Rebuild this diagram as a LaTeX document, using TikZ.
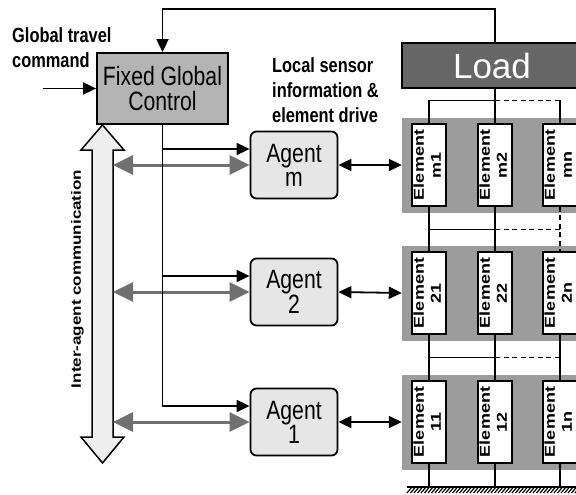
\documentclass[tikz,border=0pt]{standalone}
\usepackage{fontspec}
\setmainfont{Liberation Sans}[FakeStretch=0.8]
\newfontfamily\widesans{Liberation Sans}
\usetikzlibrary{arrows.meta, calc}

\definecolor{ctlgray}{HTML}{B4B4B4}
\definecolor{loadgray}{HTML}{666666}
\definecolor{grpgray}{HTML}{9C9C9C}
\definecolor{agentgray}{HTML}{E6E6E6}
\definecolor{commgray}{HTML}{EEEEEE}
\definecolor{linkgray}{HTML}{707070}

% rotated label of one element
\newcommand{\elemlabel}[1]{\rotatebox{90}{\scalebox{1}[0.8]{\widesans\bfseries\fontsize{18}{21}\selectfont%
  \begin{tabular}{@{}c@{}}Element\\#1\end{tabular}}}}

\begin{document}
\begin{tikzpicture}[x=1pt, y=-1pt]

\useasboundingbox (0,0) rectangle (576,495);

% styles
\pgfkeys{/wire/.style={draw, line width=1.8pt}} % plain connection
\pgfkeys{/bus/.style={draw, line width=1pt}} % thin cross links between columns
\pgfkeys{/blkarrow/.style={/wire, >={Triangle[length=13pt, width=12pt]}, ->}} % signal arrows
\pgfkeys{/gryarrow/.style={draw=linkgray, line width=3pt, >={Triangle[length=20pt, width=19pt]}, <->}} % communication links
\pgfkeys{/ctlbox/.style={draw, line width=1.8pt, fill=ctlgray, minimum width=131pt, minimum height=71pt, inner sep=0, align=center, font=\fontsize{26.5}{25}\selectfont}}
\pgfkeys{/loadbox/.style={draw, line width=1.5pt, fill=loadgray, text=white, minimum width=180pt, minimum height=45pt, inner sep=0, font=\widesans\fontsize{35}{35}\selectfont}}
\pgfkeys{/grpbox/.style={fill=grpgray, minimum width=180pt, minimum height=95pt, inner sep=0}}
\pgfkeys{/elembox/.style={draw, line width=1.8pt, fill=white, minimum width=34pt, minimum height=82pt, inner sep=0}}
\pgfkeys{/agentbox/.style={draw, line width=1.8pt, fill=agentgray, rounded corners=6pt, minimum width=87pt, minimum height=67pt, inner sep=0, align=center, font=\fontsize{26.5}{24}\selectfont}}
\pgfkeys{/note/.style={anchor=north west, align=left, inner sep=0, font=\bfseries\fontsize{20.5}{25}\selectfont}}

% top: control and load
\node[/ctlbox] (ctl) at (162.5,88.5) {Fixed Global\\Control};
\node[/loadbox] (ld) at (492,65.5) {Load};
\node[/note] (cmdtxt) at (12,27.5) {Global travel\\command};
\node[/note] (senstxt) at (272,57.5) {Local sensor\\information \&\\element drive};
\coordinate (cmdin) at (43,88.5);
\draw[/blkarrow] (cmdin) -- (ctl.west);

% element groups, one row per agent
\foreach \r/\ry in {m/165, 2/293, 1/422} {
\node[/grpbox] (grp\r) at (492,\ry) {};
\foreach \c/\cx in {1/429, 2/495, n/560} {
\node[/elembox] (el\r\c) at (\cx,\ry) {\elemlabel{\r\c}};
}
}

% links above row m
\coordinate (bm) at ($(ld.south -| elm1)!.33!(elm1.north)$);
\draw[/wire] (ld.south -| elm2.north) -- (elm2.north);
\draw[/wire] (bm) -- (elm1.north);
\draw[/wire] (bm -| elmn) -- (elmn.north);
\draw[/bus] (bm) -- (bm -| elm2);
\draw[/bus, dash pattern=on 5pt off 3.5pt] (bm -| elm2) -- (bm -| elmn);

% links between row m and row 2
\coordinate (b2) at ($(elm1.south)!.5!(el21.north)$);
\draw[/wire] (elm1.south) -- (el21.north);
\draw[/wire] (elm2.south) -- (el22.north);
\draw[/wire, dash pattern=on 5pt off 3.5pt] (elmn.south) -- (el2n.north);
\draw[/bus] (b2) -- (b2 -| el22);
\draw[/bus, dash pattern=on 5pt off 3.5pt] (b2 -| el22) -- (b2 -| el2n);

% links between row 2 and row 1
\coordinate (b1) at ($(el21.south)!.5!(el11.north)$);
\foreach \c in {1,2,n} {
\draw[/wire] (el2\c.south) -- (el1\c.north);
}
\draw[/bus] (b1) -- (b1 -| el12);
\draw[/bus, dash pattern=on 5pt off 3.5pt] (b1 -| el12) -- (b1 -| el1n);

% ground
\coordinate (gnd) at (407,487);
\foreach \c in {1,2,n} {
\draw[/wire] (el1\c.south) -- (el1\c.south |- gnd);
}
\draw[line width=1.5pt] (gnd) -- (580,487);
\foreach \x in {407,410.5,...,576} {
\draw[line width=1.2pt] (\x,493) -- (\x+5,487);
}

% feedback from load
\draw[/blkarrow] (ld.north -| elm2.north) -- ++(0,-33) -| (ctl.north);

% inter-agent communication
\draw[line width=1.5pt, fill=commgray] (102.5,125) -- (124,150) -- (113,150) -- (113,437) -- (124,437)
  -- (102.5,463) -- (81,437) -- (92,437) -- (92,150) -- (81,150) -- cycle;
\coordinate (shaft) at (113,0);
\node[rotate=90, inner sep=0] (commtxt) at (77.5,279)
  {\scalebox{1}[0.8]{\widesans\bfseries\fontsize{17}{20}\selectfont Inter-agent communication}};

% agents
\foreach \r/\ry in {m/165, 2/292, 1/422} {
\node[/agentbox] (ag\r) at (294,\ry) {Agent\\\r};
\draw[/gryarrow] (ag\r.west -| shaft) -- (ag\r.west); % link to the other agents
\draw[/blkarrow] (ctl.south) |- ($(ag\r.west)+(0,-16)$); % global command
\draw[/blkarrow, <->] (ag\r.east) -- (grp\r.west); % sensing and drive
}

\end{tikzpicture}
\end{document}
